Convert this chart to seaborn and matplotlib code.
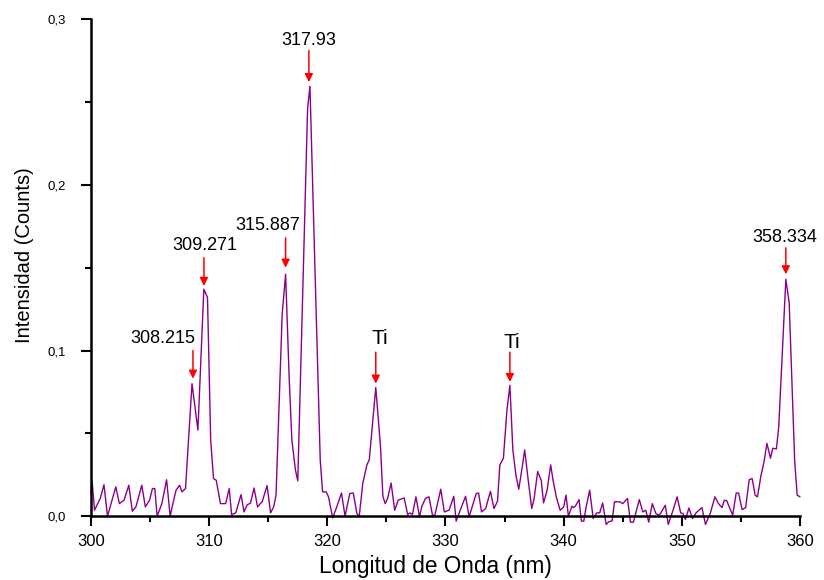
import matplotlib
matplotlib.use("Agg")
import matplotlib.pyplot as plt
import seaborn as sns
import pandas as pd
from matplotlib.ticker import MultipleLocator, FuncFormatter

wavelength = [
    300.0, 300.1, 300.3, 300.65, 300.8, 301.1, 301.4, 302.1, 302.4, 302.8,
    303.2, 303.5, 303.8, 304.3, 304.6, 304.96, 305.2, 305.4, 305.6, 306.0,
    306.4, 306.7, 307.0, 307.2, 307.5, 307.7, 308.0, 308.55, 309.05, 309.55,
    309.86, 310.13, 310.37, 310.6, 310.96, 311.4, 311.7, 311.9, 312.25, 312.7,
    312.95, 313.2, 313.5, 313.8, 314.1, 314.5, 314.9, 315.2, 315.46, 315.66,
    316.18, 316.47, 316.78, 317.0, 317.3, 317.5, 318.33, 318.53, 319.4, 319.6,
    319.9, 320.1, 320.45, 320.8, 321.2, 321.5, 321.9, 322.2, 322.5, 322.7,
    323.0, 323.35, 323.55, 324.1, 324.5, 324.7, 324.9, 325.1, 325.4, 325.7,
    326.0, 326.5, 326.8, 327.0, 327.2, 327.5, 327.8, 328.0, 328.3, 328.6,
    328.9, 329.1, 329.6, 329.9, 330.3, 330.7, 330.9, 331.3, 331.7, 332.0,
    332.3, 332.6, 332.8, 333.05, 333.4, 333.8, 334.1, 334.4, 334.6, 334.9,
    335.2, 335.45, 335.7, 335.96, 336.2, 336.5, 336.7, 337.0, 337.3, 337.5,
    337.8, 338.1, 338.3, 338.6, 338.9, 339.1, 339.4, 339.7, 340.0, 340.2,
    340.4, 340.7, 340.85, 341.0, 341.3, 341.5, 341.7, 341.9, 342.2, 342.5,
    342.8, 343.05, 343.3, 343.6, 343.8, 344.1, 344.3, 344.75, 345.0, 345.4,
    345.65, 345.9, 346.4, 346.7, 346.95, 347.2, 347.5, 347.8, 348.1, 348.6,
    348.85, 349.3, 349.6, 349.9, 350.1, 350.3, 350.6, 350.9, 351.2, 351.7,
    352.0, 352.4, 352.8, 353.1, 353.4, 353.6, 353.8, 354.3, 354.6, 354.8,
    355.1, 355.4, 355.7, 355.95, 356.2, 356.4, 356.7, 356.96, 357.2, 357.5,
    357.7, 358.0, 358.2, 358.8, 359.08, 359.55, 359.76, 360.0,
]

intensity = [
    0.014, 0.021, 0.0036, 0.0087, 0.011, 0.019, 0.0, 0.0177, 0.0076, 0.0097,
    0.0187, 0.003, 0.0056, 0.0187, 0.0056, 0.0097, 0.0167, 0.0167, 0.0, 0.0076,
    0.022, 0.0, 0.0097, 0.0157, 0.0187, 0.0147, 0.0167, 0.080, 0.052, 0.137,
    0.132, 0.046, 0.0227, 0.0217, 0.0076, 0.0076, 0.0167, 0.001, 0.002, 0.013,
    0.0026, 0.0067, 0.008, 0.017, 0.0056, 0.009, 0.0185, 0.002, 0.0056, 0.0127,
    0.122, 0.146, 0.082, 0.046, 0.028, 0.0213, 0.246, 0.2595, 0.034, 0.0147,
    0.0147, 0.0117, -0.001, 0.0056, 0.014, 0.0, 0.0137, 0.014, 0.0016, 0.0,
    0.0197, 0.031, 0.034, 0.0777, 0.042, 0.012, 0.0076, 0.0107, 0.020, 0.0036,
    0.0097, 0.011, 0.001, 0.002, 0.001, 0.0117, -0.0004, 0.006, 0.0107, 0.0117,
    0.0006, 0.0006, 0.0163, 0.0026, 0.0036, 0.012, -0.003, 0.0046, 0.012, -0.0004,
    0.0066, 0.0137, 0.014, 0.0026, 0.0046, 0.015, 0.0046, 0.009, 0.031, 0.035,
    0.064, 0.079, 0.040, 0.0247, 0.0163, 0.030, 0.040, 0.0217, 0.0046, 0.0107,
    0.027, 0.0217, 0.008, 0.0157, 0.031, 0.0217, 0.011, 0.0036, 0.0056, 0.0127,
    0.0, 0.006, 0.0052, 0.0062, 0.010, -0.003, -0.003, 0.0056, 0.0157, -0.0014,
    0.002, 0.002, 0.008, -0.005, -0.0034, -0.0028, 0.0087, 0.0087, 0.0076, 0.0107,
    -0.0036, -0.0036, 0.010, 0.0026, 0.0036, -0.0036, 0.0076, 0.0016, 0.0006, 0.0066,
    -0.005, 0.0046, 0.0117, 0.002, 0.0016, -0.002, 0.005, -0.0014, 0.002, 0.0052,
    -0.005, 0.0016, 0.0117, 0.0076, 0.0052, 0.0097, 0.0093, 0.0006, 0.014, 0.014,
    0.004, 0.0052, 0.022, 0.0227, 0.0127, 0.0117, 0.0247, 0.033, 0.044, 0.035,
    0.041, 0.0406, 0.054, 0.143, 0.129, 0.033, 0.0127, 0.0117,
]

# annotations: label, text x, text y, arrow x, arrow tail y, arrow tip y
ann_labels = ["308.215", "309.271", "315.887", "317.93", "Ti", "Ti", "358.334"]
ann_text_x = [306.09, 309.64, 314.97, 318.44, 324.45, 335.62, 358.71]
ann_text_y = [0.107, 0.1635, 0.1756, 0.287, 0.1074, 0.105, 0.168]
ann_arrow_x = [308.63, 309.56, 316.47, 318.44, 324.1, 335.45, 358.8]
ann_tail_y = [0.100, 0.156, 0.168, 0.281, 0.099, 0.099, 0.162]
ann_tip_y = [0.083, 0.139, 0.150, 0.262, 0.080, 0.081, 0.146]

sns.set_style("ticks")
plt.rcParams["font.family"] = ["Liberation Sans", "DejaVu Sans"]
plt.rcParams["text.color"] = "black"
plt.rcParams["axes.labelcolor"] = "black"
plt.rcParams["xtick.color"] = "black"
plt.rcParams["ytick.color"] = "black"
plt.rcParams["axes.edgecolor"] = "black"

df = pd.DataFrame({"x": wavelength, "y": intensity})

fig = plt.figure(figsize=(8.24, 5.8), dpi=100)
ax = fig.add_axes([0.1104, 0.110, 0.8605, 0.857])

sns.lineplot(data=df, x="x", y="y", ax=ax, color="#8B008B", lw=1.0,
             sort=False, estimator=None, clip_on=False)

ax.set_xlim(300, 360)
ax.set_ylim(0, 0.3)
ax.xaxis.set_major_locator(MultipleLocator(10))
ax.xaxis.set_minor_locator(MultipleLocator(5))
ax.yaxis.set_major_locator(MultipleLocator(0.1))
ax.yaxis.set_minor_locator(MultipleLocator(0.05))
ax.yaxis.set_major_formatter(FuncFormatter(lambda v, p: f"{v:.1f}".replace(".", ",")))

for side in ["top", "right"]:
    ax.spines[side].set_visible(False)
ax.spines["left"].set_linewidth(1.8)
ax.spines["bottom"].set_linewidth(1.8)
ax.tick_params(axis="both", which="major", direction="out", length=7, width=1.5,
               color="black", labelcolor="black")
ax.tick_params(axis="both", which="minor", direction="out", length=4, width=1.5,
               color="black")
ax.tick_params(axis="x", which="major", labelsize=12, pad=6)
ax.tick_params(axis="y", which="major", labelsize=9.5, pad=11)

ax.set_xlabel("Longitud de Onda (nm)", fontsize=16.3, labelpad=4, color="black")
ax.set_ylabel("Intensidad (Counts)", fontsize=14.5, labelpad=10, color="black")
ax.xaxis.label.set_x(0.486)
ax.yaxis.label.set_y(0.525)

for lab, tx, ty, ax_x, tail, tip in zip(ann_labels, ann_text_x, ann_text_y,
                                         ann_arrow_x, ann_tail_y, ann_tip_y):
    fs = 15 if lab == "Ti" else 13
    ax.text(tx, ty, lab, ha="center", va="center", fontsize=fs, color="black")
    ax.annotate("", xy=(ax_x, tip), xytext=(ax_x, tail),
                arrowprops=dict(arrowstyle="-|>", color="red", lw=1.1,
                                mutation_scale=12, shrinkA=0, shrinkB=0))

fig.savefig("out.png", dpi=100)
